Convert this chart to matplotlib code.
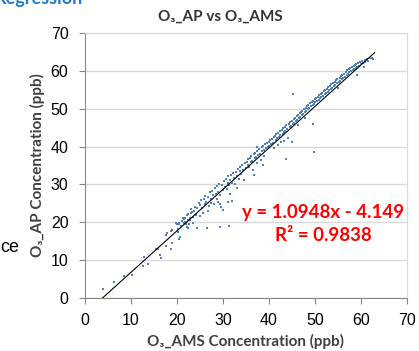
import matplotlib.pyplot as plt

# Scatter values (ppb)
ams = [3.9, 6.3, 8.5, 10.2, 12.6, 13.7, 12.9,
       15.4, 15.9, 16.5, 16.3, 18.7, 17.6, 18.9, 20.4, 17.6, 17.8, 18.7, 18.9,
       20.2, 20.2, 19.8, 20.0, 20.4, 21.0, 21.7, 21.5, 22.2, 22.4, 22.8, 23.0,
       23.2, 22.4, 22.6, 21.7, 20.7,
       20.5, 20.9, 21.2, 21.6, 21.9, 22.1, 22.5, 22.8, 23.1, 23.4, 23.6, 23.9,
       24.2, 24.4, 24.7, 24.9, 24.3, 23.5,
       25.1, 25.3, 25.5, 25.8, 26.0, 26.2, 26.5, 26.4, 26.7, 26.9, 27.1, 27.3,
       27.5, 27.7, 27.9, 28.1, 28.2, 28.4, 28.6, 28.8, 29.0, 29.2, 29.3, 29.4,
       29.6, 29.7, 29.9, 30.0, 25.6, 26.8, 28.9,
       30.2, 30.4, 30.6, 30.8, 31.0, 31.2, 31.3, 31.4, 31.6, 31.8, 32.0, 32.0,
       32.2, 32.4, 32.6, 32.8, 33.0, 33.2, 33.4, 33.6, 33.8, 34.0, 34.2, 34.4,
       34.6, 34.8, 35.0, 31.5, 33.1, 31.1, 29.3,
       35.2, 35.4, 35.5, 35.7, 35.9, 36.0, 36.2, 36.4, 36.5, 36.7, 36.9, 37.0,
       37.2, 37.4, 37.5, 37.7, 37.9, 38.0, 38.2, 38.4, 38.5, 38.7, 38.9, 39.0,
       39.2, 39.4, 39.6, 39.8, 40.0, 36.8, 38.6, 37.3,
       40.1, 40.3, 40.5, 40.6, 40.8, 41.0, 41.1, 41.3, 41.5, 41.6, 41.8, 42.0,
       42.1, 42.3, 42.5, 42.6, 42.8, 43.0, 43.1, 43.3, 43.5, 43.6, 43.7, 43.8,
       44.0, 44.1, 44.3, 44.5, 44.6, 44.8, 45.0, 45.0, 45.2, 41.9, 43.2,
       45.2, 45.4, 45.5, 45.7, 45.9, 46.0, 46.2, 46.3, 46.5, 46.7, 46.8, 47.0,
       47.2, 47.3, 47.5, 47.6, 47.8, 48.0, 48.1, 48.3, 48.5, 48.6, 48.8, 49.0,
       49.1, 49.3, 49.5, 49.6, 49.6, 49.8, 49.8, 50.0, 46.4, 47.9,
       50.1, 50.3, 50.4, 50.6, 50.8, 50.9, 51.1, 51.3, 51.4, 51.6, 51.8, 51.9,
       52.1, 52.3, 52.4, 52.6, 52.8, 52.9, 53.1, 53.3, 53.4, 53.6, 53.8, 53.9,
       54.1, 54.3, 54.4, 54.6, 54.8, 54.9, 55.0,
       55.2, 55.4, 55.5, 55.7, 55.9, 56.0, 56.2, 56.4, 56.5, 56.7, 56.9, 57.0,
       57.2, 57.4, 57.5, 57.7, 57.9, 58.0, 58.2, 58.4, 58.5, 58.7, 58.9, 59.0,
       59.2, 59.4, 59.6, 59.8, 60.0, 60.2, 60.5, 60.8, 61.0, 61.3, 61.6, 62.0,
       62.4, 62.6, 59.1, 60.6]
ap = [2.4, 4.2, 5.8, 6.1, 8.5, 9.0, 10.8,
      12.9, 13.0, 10.5, 11.4, 12.9, 13.7, 14.5, 15.6, 16.6, 17.1, 17.7, 18.0,
      17.4, 18.2, 19.8, 19.5, 19.5, 20.4, 20.1, 19.8, 18.7, 20.6, 21.1, 22.4,
      22.7, 18.5, 19.5, 21.1, 16.1,
      19.8, 19.1, 21.0, 20.8, 19.6, 21.9, 22.3, 20.5, 23.6, 21.4, 22.9, 24.1,
      22.0, 23.8, 25.0, 21.6, 18.5, 19.8,
      24.6, 25.9, 23.9, 26.2, 24.8, 27.0, 18.5, 25.3, 26.8, 24.3, 27.9, 26.1,
      25.0, 28.3, 27.1, 24.9, 29.0, 27.6, 26.2, 29.6, 28.1, 30.2, 18.8, 27.3,
      24.0, 29.9, 28.6, 23.2, 22.5, 23.0, 25.4,
      30.8, 29.4, 31.5, 28.9, 30.3, 32.1, 19.0, 29.8, 31.2, 32.6, 25.6, 30.5,
      33.0, 31.7, 30.0, 33.4, 32.2, 34.0, 31.5, 33.5, 34.6, 32.8, 35.1, 33.9,
      31.3, 35.6, 34.4, 27.5, 29.0, 25.4, 24.8,
      36.0, 35.1, 36.8, 34.6, 37.0, 35.9, 37.5, 36.2, 33.8, 38.0, 36.9, 38.4,
      37.3, 35.6, 38.9, 37.8, 39.3, 38.1, 36.5, 39.8, 38.7, 40.2, 39.0, 37.4,
      40.6, 39.5, 41.0, 39.9, 41.3, 32.5, 35.2, 40.0,
      40.2, 41.8, 40.7, 42.1, 41.0, 42.5, 39.6, 42.9, 41.7, 43.3, 42.2, 43.6,
      42.6, 44.0, 43.0, 41.2, 44.4, 43.4, 44.8, 43.9, 45.2, 44.2, 36.7, 45.6,
      44.6, 42.3, 46.0, 45.1, 46.4, 45.5, 41.2, 46.8, 53.9, 40.4, 41.6,
      45.9, 47.2, 46.3, 47.6, 46.7, 48.0, 47.1, 48.4, 47.5, 48.8, 47.9, 49.2,
      48.3, 49.5, 48.7, 49.9, 49.0, 50.3, 49.4, 50.6, 49.8, 51.0, 50.2, 51.4,
      50.6, 51.8, 51.0, 46.0, 52.1, 38.6, 51.3, 52.5, 45.8, 47.6,
      51.7, 52.8, 52.0, 53.1, 52.3, 53.5, 52.7, 53.9, 53.0, 54.2, 53.4, 54.6,
      53.8, 55.0, 54.1, 55.3, 54.5, 55.7, 54.9, 56.0, 55.2, 56.4, 55.6, 56.8,
      56.0, 57.1, 56.3, 57.5, 56.7, 57.9, 55.6,
      57.1, 58.2, 57.4, 58.6, 57.8, 59.0, 58.2, 59.3, 58.5, 59.7, 58.9, 60.1,
      59.3, 60.4, 59.6, 60.8, 60.0, 61.0, 60.2, 61.2, 60.4, 61.5, 60.8, 61.8,
      61.1, 62.0, 61.4, 62.3, 61.7, 62.5, 62.0, 62.8, 62.3, 63.0, 62.6, 63.4,
      63.5, 63.1, 58.8, 60.9]

# Excel linear trendline shown on the chart
slope = 1.0948
intercept = -4.149
r2 = 0.9838
fit_x = [3.8, 63.0]

fig = plt.figure(figsize=(4.19, 3.51), dpi=100)
ax = fig.add_axes([0.203, 0.151, 0.768, 0.755])

ax.scatter(ams, ap, s=4, marker='s', color='#4f81bd', linewidths=0, zorder=3)
ax.plot(fit_x, [slope * v + intercept for v in fit_x],
        color='black', linewidth=0.8, zorder=4)

ax.set_xlim(0, 70)
ax.set_ylim(0, 70)
ax.set_xticks(range(0, 71, 10))
ax.set_yticks(range(0, 71, 10))
ax.yaxis.grid(True, color='#d9d9d9', linewidth=1)
ax.set_axisbelow(True)
for side in ['left', 'bottom']:
    ax.spines[side].set_color('#868686')
for side in ['top', 'right']:
    ax.spines[side].set_color('#d9d9d9')
ax.tick_params(axis='both', length=4, color='#868686', labelsize=11.5)
ax.tick_params(axis='x', pad=7)
ax.tick_params(axis='y', pad=8)
for lbl in ax.get_xticklabels() + ax.get_yticklabels():
    lbl.set_family('Liberation Sans')

font = ['Lato', 'DejaVu Sans']
fig.text(0.525, 0.952, 'O₃_AP vs O₃_AMS', fontsize=11, fontweight='bold',
         family=font, color='#333333', ha='center', va='center')
ax.set_xlabel('O₃_AMS Concentration (ppb)', fontsize=11, fontweight='bold',
              family=font, color='#404040', labelpad=4)
ax.set_ylabel('O₃_AP Concentration (ppb)', fontsize=11, fontweight='bold',
              family=font, color='#404040', labelpad=4)

ax.text(51.8, 22.5, f'y = {slope}x - {abs(intercept)}', color='#ff0000',
        fontsize=13.5, fontweight='bold', family=font, ha='center', va='center')
ax.text(51.8, 16.5, f'R² = {r2}', color='#ff0000',
        fontsize=13.5, fontweight='bold', family=font, ha='center', va='center')

# bits of the surrounding page that got cropped in
fig.text(-0.012, 0.988, 'Regression', color='#1f7ad1', fontsize=13,
         fontweight='bold', family=font, ha='left', va='baseline')
fig.text(0.0, 0.296, 'ce', color='black', fontsize=13, family='Liberation Sans',
         ha='left', va='center')

fig.savefig('out.png', dpi=100)
